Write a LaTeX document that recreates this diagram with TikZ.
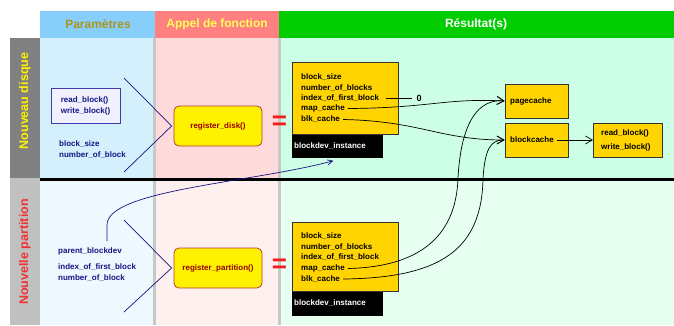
\documentclass[tikz,border=0pt]{standalone}
\usepackage{fontspec}
\setmainfont{Liberation Sans}
\usetikzlibrary{arrows.meta}
\definecolor{hdrblue}{RGB}{135,206,250}
\definecolor{hdrpink}{RGB}{255,128,128}
\definecolor{hdrgreen}{RGB}{0,204,0}
\definecolor{tblue}{RGB}{212,240,252}
\definecolor{tpink}{RGB}{255,218,218}
\definecolor{tgreen}{RGB}{204,255,229}
\definecolor{bblue}{RGB}{238,248,255}
\definecolor{bpink}{RGB}{255,240,240}
\definecolor{bgreen}{RGB}{230,255,240}
\definecolor{sepgray}{RGB}{200,200,200}
\definecolor{graydark}{RGB}{128,128,128}
\definecolor{graylight}{RGB}{192,192,192}
\definecolor{olivetxt}{RGB}{170,150,30}
\definecolor{hdryellow}{RGB}{255,255,90}
\definecolor{navytxt}{RGB}{20,20,130}
\definecolor{regred}{RGB}{150,0,0}
\definecolor{regborder}{RGB}{180,60,60}
\definecolor{gold}{RGB}{255,212,0}
\definecolor{eqred}{RGB}{240,30,30}
\definecolor{labred}{RGB}{240,50,50}
\definecolor{pboxfill}{RGB}{240,240,255}
\definecolor{pboxborder}{RGB}{60,60,170}
\tikzset{
  hdr/.style={font=\bfseries\fontsize{12}{14}\selectfont, inner sep=0pt},
  rowlab/.style={font=\bfseries\fontsize{12.5}{14}\selectfont, rotate=90, inner sep=0pt},
  ptext/.style={font=\bfseries\fontsize{8}{10.4}\selectfont, text=navytxt, anchor=west, inner sep=0pt},
  stext/.style={font=\bfseries\fontsize{8}{10.4}\selectfont, text=black, anchor=west, inner sep=1pt},
  pbox/.style={draw=pboxborder, fill=pboxfill, line width=0.8pt, minimum width=69pt, minimum height=35pt,
     font=\bfseries\fontsize{8}{11}\selectfont, text=navytxt, align=left, inner sep=0pt},
  regbox/.style={draw=regborder, fill=yellow, line width=0.8pt, rounded corners=5pt, minimum width=88pt,
     minimum height=40pt, font=\bfseries\fontsize{8}{10}\selectfont, text=regred, inner sep=0pt},
  eqsign/.style={font=\bfseries\fontsize{26}{26}\selectfont, text=eqred, inner sep=0pt},
  structbox/.style={draw=black!80, fill=gold, line width=0.8pt, minimum width=106pt, inner sep=0pt},
  barbox/.style={fill=black, minimum width=91pt, minimum height=23pt, inner sep=0pt},
  bartext/.style={font=\bfseries\fontsize{8}{10}\selectfont, text=white, anchor=west, inner sep=0pt},
  cbox/.style={draw=black!80, fill=gold, line width=0.8pt, minimum width=63pt, minimum height=34pt, inner sep=0pt},
  ctext/.style={font=\bfseries\fontsize{8}{10}\selectfont, text=black, anchor=west, inner sep=0pt},
  bluelink/.style={draw=navytxt, line width=0.7pt},
  conn/.style={draw=black, line width=0.7pt, -{Straight Barb[length=7pt,width=8pt]}},
}
\begin{document}
\begin{tikzpicture}[x=1pt,y=-1pt]
\useasboundingbox (0,0) rectangle (674,325);
% header
\fill[hdrblue] (40,11) rectangle (155,38);
\fill[hdrpink] (155,11) rectangle (279,38);
\fill[hdrgreen] (279,11) rectangle (674,38);
% bodies
\fill[tblue] (40,38) rectangle (155,178);
\fill[tpink] (155,38) rectangle (279,178);
\fill[tgreen] (279,38) rectangle (674,178);
\fill[bblue] (40,178) rectangle (155,325);
\fill[bpink] (155,178) rectangle (279,325);
\fill[bgreen] (279,178) rectangle (674,325);
% separators
\fill[sepgray] (153,38) rectangle (156,325);
\fill[sepgray] (278,38) rectangle (281,325);
% left row labels
\fill[graydark] (10,38) rectangle (40,178);
\fill[graylight] (10,178) rectangle (40,325);
\draw[line width=3pt] (40,179) -- (674,179);
\node[hdr, text=olivetxt] (hP) at (98,24.5) {Paramètres};
\node[hdr, text=hdryellow] (hA) at (217,24.5) {Appel de fonction};
\node[hdr, text=white] (hR) at (476,24.5) {Résultat(s)};
\node[rowlab, text=yellow] (rND) at (25,101) {Nouveau disque};
\node[rowlab, text=labred] (rNP) at (25,252) {Nouvelle partition};

% ---------- top row ----------
\node[pbox] (rw1) at (85.5,105.5) {read\_block()\\write\_block()};
\node[ptext] (bs1) at (59,144) {block\_size};
\node[ptext] (nb1) at (59,155) {number\_of\_block};
\node[regbox] (reg1) at (218,126) {register\_disk()};
\coordinate (l1a) at (124,78);
\coordinate (l1b) at (124,172);
\draw[bluelink] (l1a) -- ([xshift=-2pt]reg1.west) -- (l1b);
\node[eqsign] (eq1) at (279.5,123) {=};

\node[structbox, minimum height=72pt] (s1) at (345,98) {};
\node[barbox, anchor=north west] (bar1) at (s1.south west) {};
\node[bartext] (bi1) at (294,146) {blockdev\_instance};
\node[stext] (a1) at (300,77) {block\_size};
\node[stext] (b1) at (300,88) {number\_of\_blocks};
\node[stext] (c1) at (300,98) {index\_of\_first\_block};
\node[stext] (d1) at (300,108.5) {map\_cache};
\node[stext] (e1) at (300,119.5) {blk\_cache};
\node[font=\bfseries\fontsize{9}{10}\selectfont, inner sep=0pt] (zero) at (419,98) {0};
\draw[line width=0.7pt] ([xshift=6pt]c1.east) -- ([xshift=-4pt]zero.west);

\node[cbox] (page) at (536.5,101) {};
\node[ctext] (pt) at (510,101) {pagecache};
\node[cbox] (bc) at (536.5,140) {};
\node[ctext] (bt) at (510,140) {blockcache};
\node[cbox, minimum width=69pt] (rw2) at (628,140) {};
\node[ctext] (rt1) at (601,133) {read\_block()};
\node[ctext] (rt2) at (601,147) {write\_block()};
\draw[conn] ([xshift=3pt]bt.east) -- (rw2.west);

\draw[conn] ([xshift=2pt]d1.east) .. controls (430,108) and (445,98) .. (page.west);
\draw[conn] ([xshift=2pt]e1.east) .. controls (420,121) and (440,140) .. (bc.west);

% ---------- bottom row ----------
\node[ptext] (pb) at (58,251) {parent\_blockdev};
\node[ptext] (if2) at (58,267) {index\_of\_first\_block};
\node[ptext] (nb2) at (58,278) {number\_of\_block};
\node[regbox] (reg2) at (218,268) {register\_partition()};
\coordinate (l2a) at (124,220);
\coordinate (l2b) at (124,312);
\draw[bluelink] (l2a) -- ([xshift=-2pt]reg2.west) -- (l2b);
\node[eqsign] (eq2) at (279.5,266) {=};

\node[structbox, minimum height=69pt] (s2) at (345,256.5) {};
\node[barbox, anchor=north west, minimum height=24pt] (bar2) at (s2.south west) {};
\node[bartext] (bi2) at (294,303) {blockdev\_instance};
\node[stext] (a2) at (300,236) {block\_size};
\node[stext] (b2) at (300,247) {number\_of\_blocks};
\node[stext] (c2) at (300,257.5) {index\_of\_first\_block};
\node[stext] (d2) at (300,268.5) {map\_cache};
\node[stext] (e2) at (300,279) {blk\_cache};

\draw[bluelink, -{Straight Barb[length=5pt,width=5pt]}] ([xshift=49pt,yshift=6pt]pb.north west) -- (107,225)
   .. controls (107,190) and (250,183) .. ([xshift=-4pt,yshift=-3pt]bar1.south);
\draw[conn] ([xshift=2pt]d2.east) .. controls (415,267) and (456,240) .. (458,178)
   .. controls (460,140) and (470,98) .. (page.west);
\draw[conn] ([xshift=2pt]e2.east) .. controls (440,278) and (482,250) .. (483,178)
   .. controls (485,150) and (490,140) .. (bc.west);
\end{tikzpicture}
\end{document}
